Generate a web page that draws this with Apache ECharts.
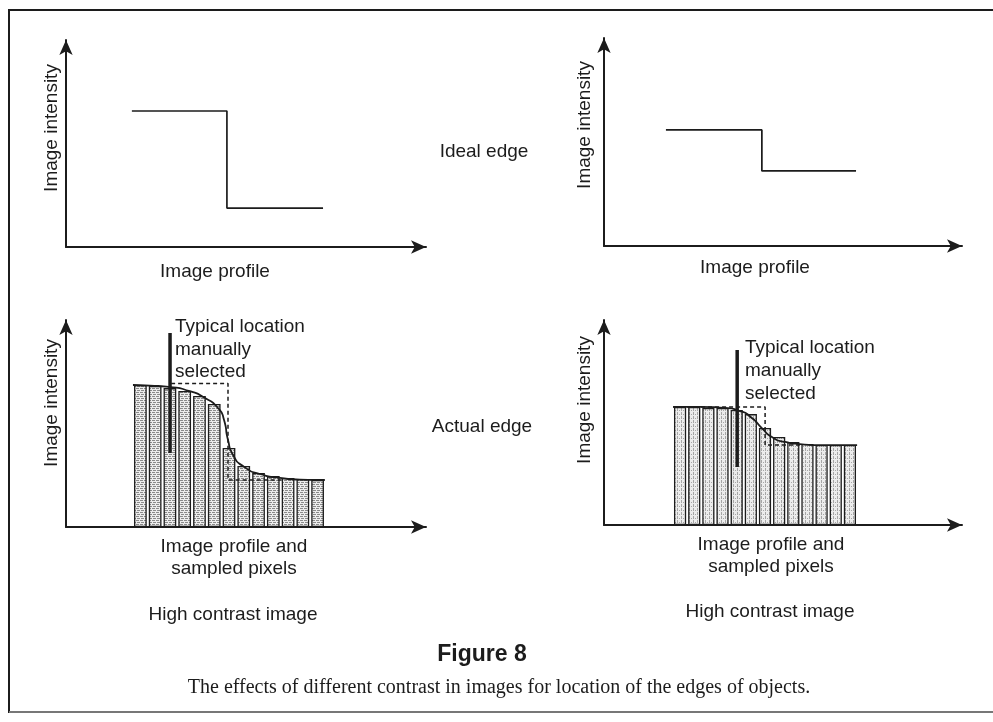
<!DOCTYPE html>
<html>
<head>
<meta charset="utf-8">
<script src="https://cdn.jsdelivr.net/npm/echarts@6/dist/echarts.min.js"></script>
<style>
  html, body { margin: 0; padding: 0; background: #fff; }
  #main { width: 993px; height: 722px; }
</style>
</head>
<body>
<div id="main"></div>
<script>
// values, panel units: x 0..100, y 0..100 (axis arrow tips)
const tlStep = [[18.3, 65.7], [44.7, 65.7], [44.7, 18.8], [71.4, 18.8]];
const trStep = [[17.3, 55.8], [44.1, 55.8], [44.1, 36.1], [70.4, 36.1]];

const pixelNames = ['1', '2', '3', '4', '5', '6', '7', '8', '9', '10', '11', '12', '13'];

// left "actual edge" panel (high contrast)
const blBars = [68.6, 68.1, 67.1, 65.7, 63.3, 59.4, 38.2, 29.5, 26.1, 24.6, 23.7, 23.2, 22.7];
const blCurve = [[18.6, 68.6], [23.3, 68.3], [28.9, 67.6], [34.4, 65.6], [38.6, 62.3], [42.2, 57.5],
                 [43.9, 51.7], [45.0, 42.0], [46.4, 34.8], [49.7, 28.8], [53.9, 25.6], [59.4, 23.7],
                 [65.0, 22.9], [71.9, 22.7]];
const blIdeal = [[29.2, 69.3], [45.0, 69.3], [45.0, 22.7], [60.0, 22.7]];
const blMarker = [[28.9, 93.7], [28.9, 35.7]];

// right "actual edge" panel
const brBars = [57.6, 57.6, 57.1, 57.1, 56.1, 54.1, 47.3, 42.9, 40.5, 39.5, 39.0, 39.0, 39.0];
const brCurve = [[19.3, 57.6], [26.8, 57.6], [33.8, 57.1], [38.0, 55.6], [41.3, 52.2], [44.1, 47.3],
                 [46.9, 42.9], [50.6, 40.5], [54.7, 39.5], [60.3, 39.0], [70.7, 39.0]];
const brIdeal = [[19.3, 57.6], [45.0, 57.6], [45.0, 39.0], [54.7, 39.0]];
const brMarker = [[37.2, 85.4], [37.2, 28.3]];

const ink = '#1c1c1c';
const sans = '"Liberation Sans", Arial, sans-serif';

// hatch fills for the sampled pixels
function makeHatch(horizontal) {
  const c = document.createElement('canvas');
  c.width = 4; c.height = 4;
  const ctx = c.getContext('2d');
  ctx.fillStyle = '#ececec';
  ctx.fillRect(0, 0, 4, 4);
  ctx.fillStyle = horizontal ? '#8a8a8a' : '#a6a6a6';
  if (horizontal) { ctx.fillRect(0, 0, 3, 1); ctx.fillRect(1, 2, 3, 1); }
  else { ctx.fillRect(1, 0, 1, 3); ctx.fillRect(3, 2, 1, 1); }
  return c;
}
const hatchA = makeHatch(true);
const hatchB = makeHatch(false);

function txt(text, x, y, extra) {
  return Object.assign({
    type: 'text', x: x, y: y, silent: true,
    style: Object.assign({
      text: text, fill: ink, fontSize: 19, fontFamily: sans,
      align: 'center', verticalAlign: 'middle'
    }, extra && extra.style)
  }, extra && extra.el);
}
function vtxt(text, x, y) {
  return txt(text, x, y, { el: { rotation: Math.PI / 2 } });
}
function ltxt(text, x, y) {
  return txt(text, x, y, { style: { align: 'left' } });
}

const grids = [
  { left: 66, top: 40, width: 360, height: 207 },
  { left: 604, top: 38, width: 358, height: 208 },
  { left: 66, top: 320, width: 360, height: 207 },
  { left: 604, top: 320, width: 358, height: 205 },
  { left: 133, top: 320, width: 192, height: 207 },
  { left: 673, top: 320, width: 184, height: 205 }
];

function valAxis(i, show) {
  return {
    type: 'value', gridIndex: i, min: 0, max: 100, show: show,
    axisLine: { show: true, onZero: false, symbol: ['none', 'arrow'], symbolSize: [10, 15],
                lineStyle: { color: ink, width: 2 } },
    axisTick: { show: false }, axisLabel: { show: false }, splitLine: { show: false }
  };
}

const xAxes = [0, 1, 2, 3].map(i => valAxis(i, true));
xAxes.push({ type: 'category', gridIndex: 4, data: pixelNames, show: false });
xAxes.push({ type: 'category', gridIndex: 5, data: pixelNames, show: false });
const yAxes = [0, 1, 2, 3].map(i => valAxis(i, true));
yAxes.push(valAxis(4, false));
yAxes.push(valAxis(5, false));

function lineSeries(data, axis, style, extra) {
  return Object.assign({
    type: 'line', data: data, xAxisIndex: axis, yAxisIndex: axis,
    symbol: 'none', silent: true, animation: false,
    lineStyle: Object.assign({ color: ink, width: 1.7 }, style)
  }, extra);
}
function barSeries(data, axis, hatch) {
  return {
    type: 'bar', data: data, xAxisIndex: axis, yAxisIndex: axis,
    barCategoryGap: '14%', silent: true, animation: false, z: 1,
    itemStyle: { color: { image: hatch, repeat: 'repeat' }, borderColor: ink, borderWidth: 1.3 }
  };
}

const chart = echarts.init(document.getElementById('main'), null, { renderer: 'canvas' });
chart.setOption({
  backgroundColor: '#fff',
  animation: false,
  grid: grids,
  xAxis: xAxes,
  yAxis: yAxes,
  series: [
    lineSeries(tlStep, 0, {}),
    lineSeries(trStep, 1, {}),
    barSeries(blBars, 4, hatchA),
    lineSeries(blCurve, 2, { width: 1.8 }, { smooth: 0.7, z: 3 }),
    lineSeries(blIdeal, 2, { width: 1.5, type: [4, 3] }, { z: 4 }),
    lineSeries(blMarker, 2, { width: 3.5 }, { z: 5 }),
    barSeries(brBars, 5, hatchB),
    lineSeries(brCurve, 3, { width: 1.8 }, { smooth: 0.7, z: 3 }),
    lineSeries(brIdeal, 3, { width: 1.5, type: [4, 3] }, { z: 4 }),
    lineSeries(brMarker, 3, { width: 3.5 }, { z: 5 })
  ],
  graphic: [
    { type: 'line', silent: true, shape: { x1: 8, y1: 10, x2: 993, y2: 10 }, style: { stroke: ink, lineWidth: 2 } },
    { type: 'line', silent: true, shape: { x1: 9, y1: 10, x2: 9, y2: 713 }, style: { stroke: ink, lineWidth: 2 } },
    { type: 'line', silent: true, shape: { x1: 9, y1: 712, x2: 993, y2: 712 }, style: { stroke: '#777', lineWidth: 2 } },

    vtxt('Image intensity', 52, 128),
    vtxt('Image intensity', 585, 125),
    vtxt('Image intensity', 52, 403),
    vtxt('Image intensity', 585, 400),
    txt('Image profile', 215, 272),
    txt('Image profile', 755, 268),
    txt('Ideal edge', 484, 152),
    txt('Actual edge', 482, 427),

    ltxt('Typical location', 175, 327),
    ltxt('manually', 175, 350),
    ltxt('selected', 175, 372),
    ltxt('Typical location', 745, 348),
    ltxt('manually', 745, 371),
    ltxt('selected', 745, 394),

    txt('Image profile and', 234, 547),
    txt('sampled pixels', 234, 569),
    txt('Image profile and', 771, 545),
    txt('sampled pixels', 771, 567),
    txt('High contrast image', 233, 615),
    txt('High contrast image', 770, 612),

    txt('Figure 8', 482, 655, { style: { fontSize: 23, fontWeight: 'bold' } }),
    txt('The effects of different contrast in images for location of the edges of objects.', 499, 688,
        { style: { fontSize: 20, fontFamily: '"Liberation Serif", "Times New Roman", serif' } })
  ]
});
</script>
</body>
</html>
